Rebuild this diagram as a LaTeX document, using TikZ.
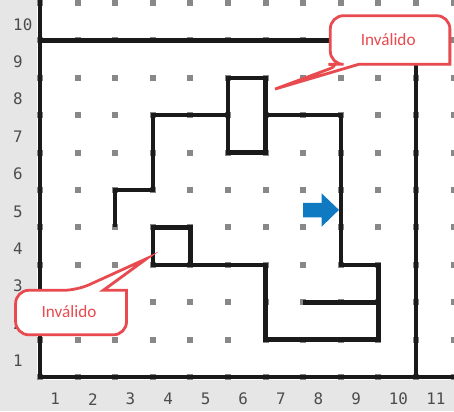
\documentclass[tikz,border=0pt]{standalone}
\usepackage{fontspec}
\setmainfont{Carlito}
\newfontfamily\axisfont{DejaVu Sans Mono}
\usetikzlibrary{shadows}
\definecolor{sheetgray}{HTML}{E6E6E6}
\definecolor{dotgray}{HTML}{888888}
\definecolor{wallblack}{HTML}{1A1A1A}
\definecolor{calloutred}{HTML}{E84A4F}
\definecolor{arrowblue}{HTML}{0F7AC2}

\begin{document}
\begin{tikzpicture}[
    x=1cm, y=0.995cm,
    wall/.style={line width=3.4pt, draw=wallblack},
    griddot/.style={fill=dotgray},
    axislabel/.style={anchor=west, inner sep=0pt, text=black!70, font=\axisfont\fontsize{12}{12}\selectfont},
    callout/.style={draw=calloutred, line width=2.1pt, fill=white, drop shadow={opacity=0.2, shadow xshift=1pt, shadow yshift=-1pt}},
    warn/.style={text=calloutred, inner sep=0pt, font=\fontsize{13}{15}\selectfont}
  ]

  % --- FUNDO (planilha) ---
  \fill[sheetgray] (-1.065,-0.91) rectangle (11.01,10.08);
  \useasboundingbox (-1.065,-0.91) rectangle (11.01,10.08);
  \fill[white] (-0.07,-0.08) rectangle (11.01,10.08);

  % --- PONTOS DA GRADE ---
  \foreach \i in {0,...,11}
    \foreach \j in {0,...,10}
      \fill[griddot] (\i-0.08,\j-0.08) rectangle (\i+0.08,\j+0.08);

  % --- ROTULOS DOS EIXOS ---
  \foreach \k in {1,...,11}
    \node[axislabel] (col\k) at (\k-0.73,-0.59) {\k};
  \foreach \k in {1,...,10}
    \node[axislabel] (row\k) at (-0.72,\k-0.57) {\k};

  % --- PAREDES ---
  \draw[wall] (0,10.1) -- (0,0) -- (11.1,0);
  \draw[wall] (0,9) -- (10,9) -- (10,0);
  \draw[wall] (2,4) -- (2,5) -- (3,5) -- (3,7) -- (5,7);
  \draw[wall] (5,6) rectangle (6,8);
  \draw[wall] (6,7) -- (8,7) -- (8,3) -- (9,3) -- (9,1) -- (6,1) -- (6,3) -- (4,3);
  \draw[wall] (3,3) rectangle (4,4);
  \draw[wall] (7,2) -- (9,2);

  % --- SETA ---
  \fill[arrowblue] (7.0,4.27) -- (7.49,4.27) -- (7.49,4.02) -- (7.95,4.47)
    -- (7.49,4.91) -- (7.49,4.66) -- (7.0,4.66) -- cycle;

  % --- AVISOS ---
  \coordinate (tipA) at (6.25,7.70);
  \coordinate (tipB) at (2.84,3.17);

  \path[callout] (9.3,9.66) [rounded corners=10pt] -- (7.72,9.66) -- (7.72,8.36)
    -- (8.02,8.36) [sharp corners] -- (tipA) -- (8.47,8.36) -- (10.9,8.36)
    [rounded corners=10pt] -- (10.9,9.66) -- cycle;
  \node[warn] (invA) at (9.26,9.01) {Inválido};

  \path[callout] (0.5,1.13) [rounded corners=10pt] -- (-0.65,1.13) -- (-0.65,2.32)
    -- (0.98,2.32) [sharp corners] -- (tipB) -- (1.68,2.32) -- (2.3,2.32)
    [rounded corners=10pt] -- (2.3,1.13) -- cycle;
  \node[warn] (invB) at (0.77,1.75) {Inválido};

\end{tikzpicture}
\end{document}
